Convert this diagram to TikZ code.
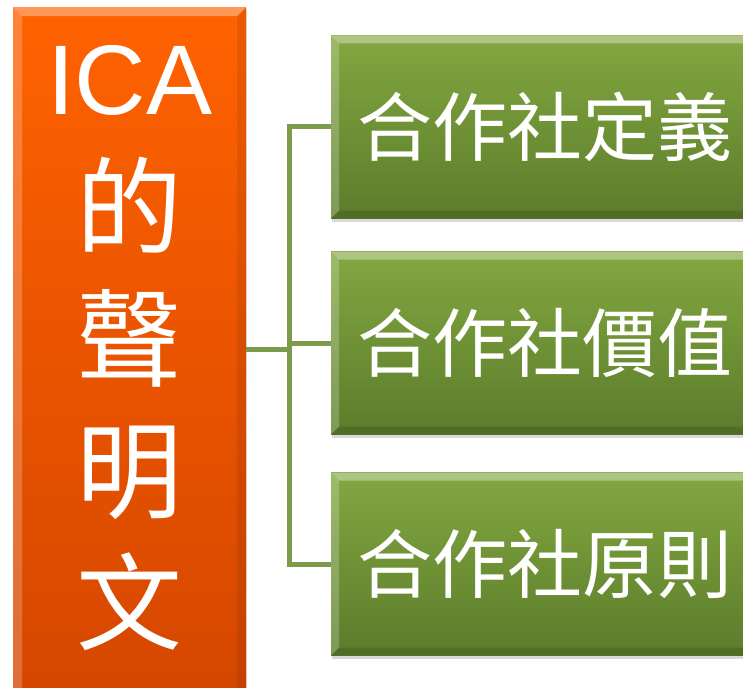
\documentclass[tikz,border=0pt]{standalone}
\usepackage{fontspec}
\setmainfont{Liberation Sans}
\newfontfamily\cjk{Noto Sans CJK TC}
\usetikzlibrary{positioning,shadows,calc}

\definecolor{orangetop}{HTML}{FF6200}
\definecolor{orangebot}{HTML}{D44600}
\definecolor{greentop}{HTML}{83A740}
\definecolor{greenbot}{HTML}{5B7C2B}
\definecolor{linkgreen}{HTML}{7C9C4C}

\tikzset{
  bevel/.style={path picture={
      \coordinate (nw) at (path picture bounding box.north west);
      \coordinate (ne) at (path picture bounding box.north east);
      \coordinate (sw) at (path picture bounding box.south west);
      \coordinate (se) at (path picture bounding box.south east);
      \fill[white,opacity=.35] (nw) -- (ne) -- ([shift={(-#1,-#1)}]ne) -- ([shift={(#1,-#1)}]nw) -- cycle;
      \fill[white,opacity=.22] (nw) -- (sw) -- ([shift={(#1,#1)}]sw) -- ([shift={(#1,-#1)}]nw) -- cycle;
      \fill[black,opacity=.12] (sw) -- (se) -- ([shift={(-#1,#1)}]se) -- ([shift={(#1,#1)}]sw) -- cycle;
      \fill[black,opacity=.08] (ne) -- (se) -- ([shift={(-#1,#1)}]se) -- ([shift={(-#1,-#1)}]ne) -- cycle;
    }},
  declbox/.style={rectangle, top color=orangetop, bottom color=orangebot, bevel=9pt,
    text=white, align=center, inner sep=0pt, font=\fontsize{106}{132}\selectfont,
    drop shadow={opacity=.25, shadow xshift=1pt, shadow yshift=-3pt}},
  itembox/.style={rectangle, top color=greentop, bottom color=greenbot, bevel=8pt,
    text=white, anchor=west, text width=410pt, align=left, inner xsep=26pt,
    minimum height=183pt, font=\cjk\fontsize{75}{80}\selectfont,
    drop shadow={opacity=.3, shadow xshift=1pt, shadow yshift=-3pt}},
  link/.style={draw=linkgreen, line width=5pt}
}

\begin{document}
\begin{tikzpicture}[x=1pt, y=-1pt]
  \clip (0,0) rectangle (743,687);
  \fill[white] (0,0) rectangle (743,687);

  % left column
  \node[declbox, minimum width=233pt, minimum height=700pt, text depth=26pt, anchor=north west] (decl) at (13,7)
    {\fontsize{99}{132}\selectfont ICA\\ \cjk 的\\ \cjk 聲\\ \cjk 明\\ \cjk 文};

  % three items
  \node[itembox] (def) at (331,127) {合作社定義};
  \node[itembox] (val) at (331,343) {合作社價值};
  \node[itembox] (prin) at (331,564) {合作社原則};

  % connectors
  \coordinate (fork) at (289,349);
  \draw[link] (decl.east |- fork) -- (fork);
  \draw[link] (def.west) -| (fork) |- (prin.west);
  \draw[link] (val.west) -- (val.west -| fork);
\end{tikzpicture}
\end{document}
